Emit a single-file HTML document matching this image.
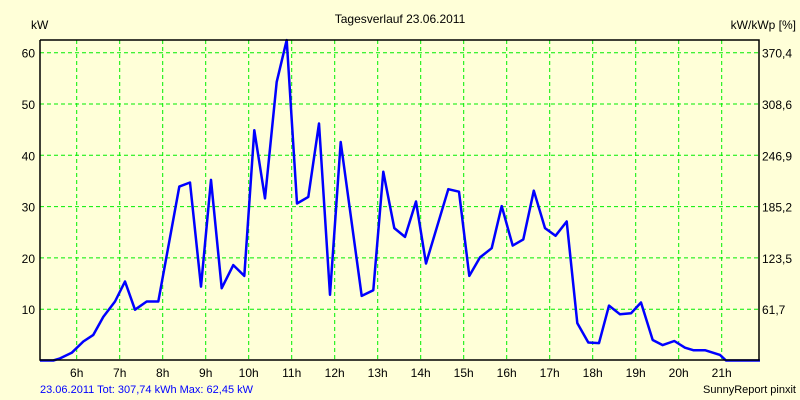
<!DOCTYPE html>
<html><head><meta charset="utf-8"><style>
body{margin:0;background:#ffffd8;}
svg{display:block;font-family:"Liberation Sans",sans-serif;}
</style></head><body>
<svg id="chart" width="800" height="400" xmlns="http://www.w3.org/2000/svg">
<rect width="800" height="400" fill="#ffffd8"/>
<text x="400" y="23" text-anchor="middle" font-size="12">Tagesverlauf 23.06.2011</text>
<text x="31" y="29" font-size="12">kW</text>
<text x="796" y="29" text-anchor="end" font-size="12">kW/kWp [%]</text>
<text x="40" y="393" font-size="11" fill="#0000ff">23.06.2011 Tot: 307,74 kWh Max: 62,45 kW</text>
<text x="796" y="393" text-anchor="end" font-size="11">SunnyReport pinxit</text>
<g id="grid"></g>
<g id="ticks"></g>
<polyline id="series" fill="none" stroke="#0000ff" stroke-width="2.5" stroke-linejoin="round"/>
<polyline points="40,40 40,360 759,360 759,40 40,40" fill="none" stroke="#000" stroke-width="1.5"/>
</svg>
<script>
const hourTicks = [6,7,8,9,10,11,12,13,14,15,16,17,18,19,20,21];
const leftTicks = [10,20,30,40,50,60];
const rightTickLabels = ["61,7","123,5","185,2","246,9","308,6","370,4"];
const times = [5.146,5.456,5.612,5.884,6.153,6.386,6.619,6.891,7.123,7.356,7.628,7.898,8.386,8.635,8.891,9.123,9.372,9.642,9.898,10.130,10.379,10.651,10.884,11.123,11.386,11.635,11.891,12.140,12.628,12.898,13.130,13.386,13.635,13.891,14.123,14.642,14.891,15.130,15.379,15.651,15.884,16.140,16.386,16.630,16.891,17.135,17.395,17.642,17.898,18.147,18.379,18.635,18.891,19.123,19.395,19.628,19.898,20.147,20.340,20.612,20.960,21.100,21.891];
const powerKW = [0,0,0.4,1.5,3.7,5.0,8.5,11.5,15.4,9.9,11.5,11.5,33.9,34.7,14.4,35.2,14.1,18.6,16.5,44.9,31.6,54.3,62.45,30.6,31.9,46.2,12.8,42.6,12.6,13.7,36.8,25.8,24.1,31.0,18.9,33.4,32.9,16.5,20.1,21.9,30.1,22.4,23.6,33.1,25.8,24.3,27.1,7.3,3.5,3.4,10.7,9.0,9.2,11.3,4.0,3.0,3.8,2.5,2.0,2.0,1.1,0,0];
const NS="http://www.w3.org/2000/svg";
const X=t=>76.7+(t-6)*43.0;
const Y=v=>360.5-v*5.13;
const grid=document.getElementById('grid'), ticks=document.getElementById('ticks');
function mk(tag,attrs,parent){const e=document.createElementNS(NS,tag);for(const k in attrs)e.setAttribute(k,attrs[k]);parent.appendChild(e);return e;}
hourTicks.forEach(h=>{
  const l=mk('line',{x1:X(h),x2:X(h),y1:40,y2:360,stroke:'#00ee00','stroke-dasharray':'4,3','stroke-width':1},grid);
  
  
  const t=mk('text',{x:X(h),y:377,'text-anchor':'middle','font-size':12},ticks);
  t.textContent=h+'h';
  
  
});
leftTicks.forEach((v,i)=>{
  const l=mk('line',{x1:40,x2:759,y1:Y(v),y2:Y(v),stroke:'#00ee00','stroke-dasharray':'4,3','stroke-width':1},grid);
  
  
  const t=mk('text',{x:35,y:Y(v)+5,'text-anchor':'end','font-size':12},ticks);
  t.textContent=v;
  
  
  const r=mk('text',{x:762,y:Y(v)+5,'font-size':12},ticks);
  r.textContent=rightTickLabels[i];
  
  
});
document.getElementById('series').setAttribute('points',times.map((t,i)=>X(t).toFixed(1)+','+Math.max(40,Y(powerKW[i])).toFixed(1)).join(' '));
</script>
</body></html>
